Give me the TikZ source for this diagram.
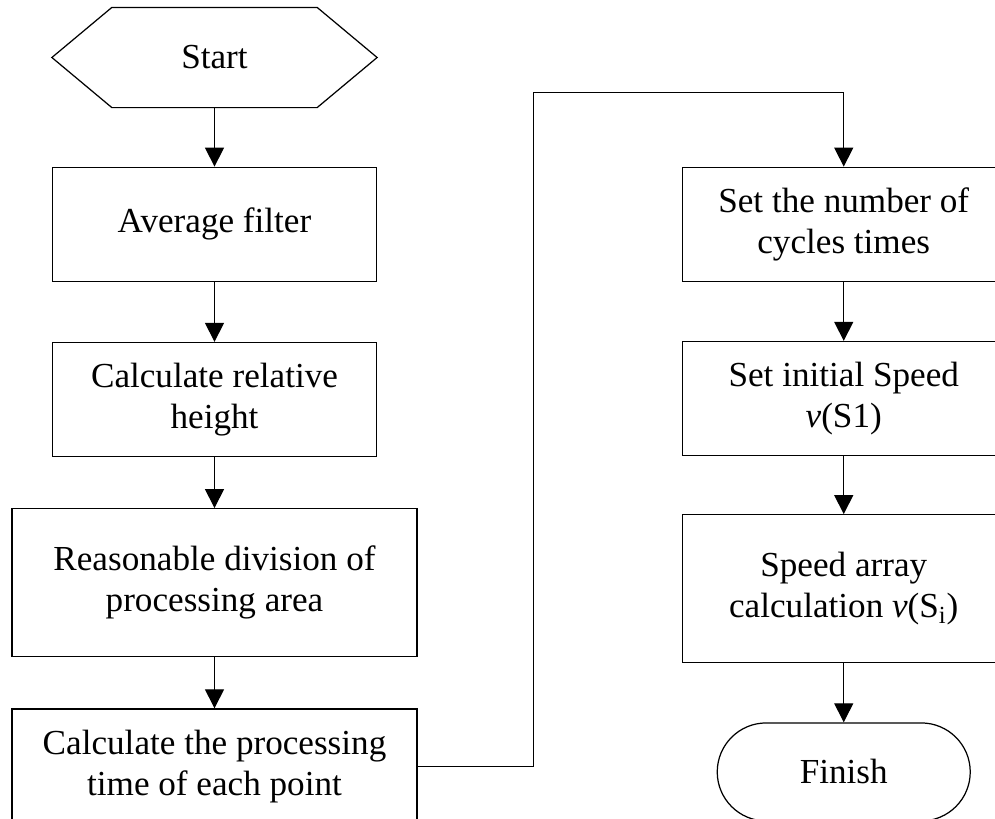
\documentclass[tikz,border=0pt]{standalone}
\usepackage{fontspec}
\setmainfont{Liberation Serif}
\usepackage{tikz}
\usetikzlibrary{positioning}
\usetikzlibrary{arrows.meta}
\tikzstyle{proc}=[rectangle,draw=black,line width=0.7pt,minimum width=6.48cm,minimum height=2.28cm,align=center,font=\fontsize{20}{23.3}\selectfont]
\tikzstyle{proctall}=[proc,minimum height=2.96cm]
\tikzstyle{flow}=[line width=0.7pt,-{Triangle[length=0.38cm,width=0.38cm]}]

\begin{document}
\begin{tikzpicture}
				
				\begin{scope}
				
				\def\a{1.18}
				\def\b{1.02}
				\def\c{1.2}
				
				\clip (0,0) rectangle (19.9,-16.36);
				
				\node [proc, draw=none, minimum height=1.98cm] (start) at (4.29,-1.15) {Start};
				\draw[line width=0.7pt] (start.west) -- ([xshift=1.2cm]start.north west) -- ([xshift=-1.2cm]start.north east)
					-- (start.east) -- ([xshift=-1.2cm]start.south east) -- ([xshift=1.2cm]start.south west) -- cycle;
				
				\node [proc, below = \a cm of start] (avgfilter) {Average filter};
				
				\node [proc, below = \c cm of avgfilter] (relheight) {Calculate relative\\height};
				
				\node [proctall, minimum width=8.1cm, below = \b cm of relheight] (division) {Reasonable division of\\processing area};
				
				\node [proc, minimum width=8.1cm, minimum height=2.3cm, below = \b cm of division] (proctime) {Calculate the processing\\time of each point};
				
				
				\node [proc, minimum width=6.44cm, right = 6.1cm of avgfilter] (cycles) {Set the number of\\cycles times};
				
				\node [proc, minimum width=6.44cm, below = \a cm of cycles] (initspeed) {Set initial Speed\\\textit{v}(S1)};
				
				\node [proctall, minimum width=6.44cm, below = 1.16cm of initspeed] (speedarr) {Speed array\\calculation \textit{v}(S\textsubscript{i})};
				
				\node [proc, rounded corners=0.98cm, minimum width=5.06cm, minimum height=1.96cm, below = \a cm of speedarr] (finish) {Finish};
				
				
				\coordinate (bend) at ([xshift=2.32cm,yshift=1.48cm]proctime.east |- cycles.north);
				
				
				\draw[flow] (start) -- (avgfilter);
				\draw[flow] (avgfilter) -- (relheight);
				\draw[flow] (relheight) -- (division);
				\draw[flow] (division) -- (proctime);
				
				\draw[flow] (proctime.east) -| (bend) -| (cycles.north);
				
				\draw[flow] (cycles) -- (initspeed);
				\draw[flow] (initspeed) -- (speedarr);
				\draw[flow] (speedarr) -- (finish);
				\end{scope}
				\end{tikzpicture}
\end{document}
